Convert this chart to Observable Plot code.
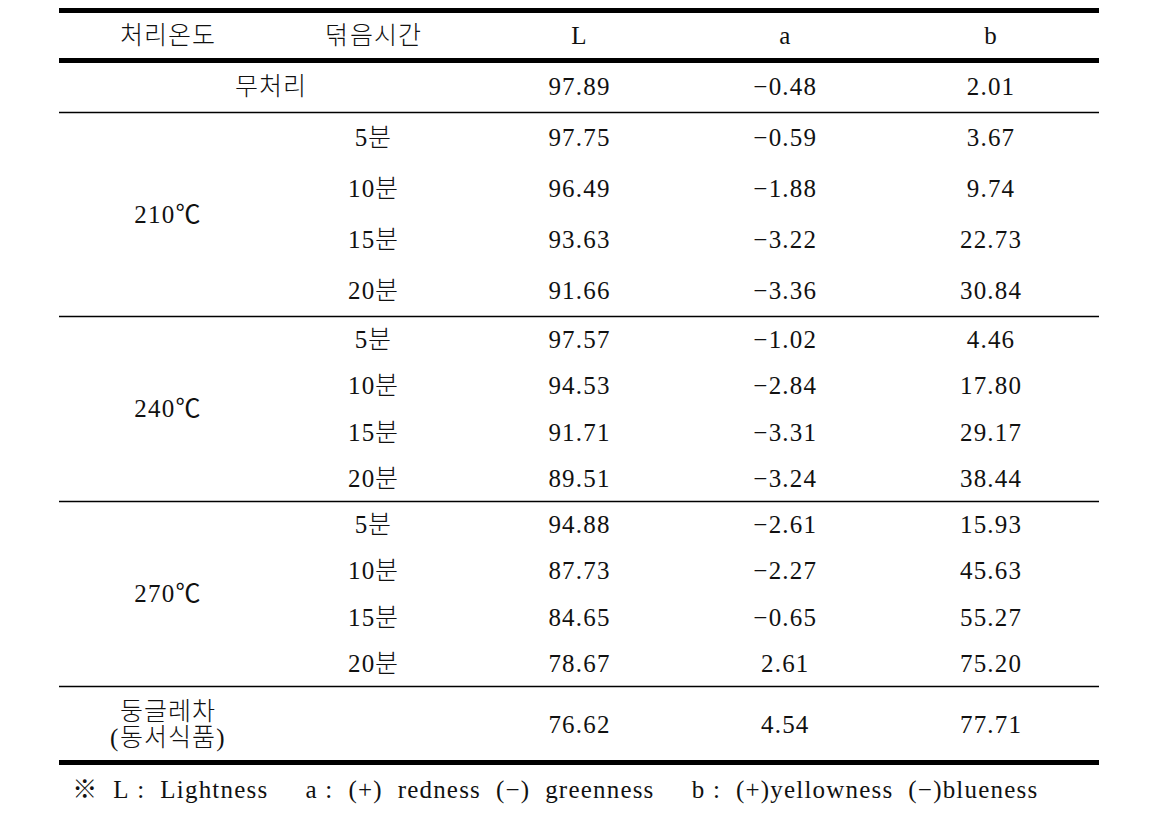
<!DOCTYPE html>
<html>
<head>
<meta charset="utf-8">
<script src="https://cdn.jsdelivr.net/npm/d3@7"></script>
<script src="https://cdn.jsdelivr.net/npm/@observablehq/plot@0.6"></script>
<style>
  @font-face {
    font-family: "HangulLight";
    src: local("Noto Sans CJK KR Light"), local("NotoSansCJKkr-Light"), local("Noto Sans CJK KR DemiLight"), local("NotoSansCJKkr-DemiLight");
    unicode-range: U+1100-11FF, U+3130-318F, U+AC00-D7AF;
  }
  html, body { margin: 0; padding: 0; background: #fff; }
  #chart svg { display: block; letter-spacing: 1.2px; }
</style>
</head>
<body>
<div id="chart"></div>
<script>
// ---- data ----
const columns = ["처리온도", "덖음시간", "L", "a", "b"];
const temps = ["210℃", "240℃", "270℃"];
const times = ["5분", "10분", "15분", "20분"];
const controlLabel = "무처리";
const controlValues = [97.89, -0.48, 2.01];
const Lvals = [97.75, 96.49, 93.63, 91.66, 97.57, 94.53, 91.71, 89.51, 94.88, 87.73, 84.65, 78.67];
const aVals = [-0.59, -1.88, -3.22, -3.36, -1.02, -2.84, -3.31, -3.24, -2.61, -2.27, -0.65, 2.61];
const bVals = [3.67, 9.74, 22.73, 30.84, 4.46, 17.80, 29.17, 38.44, 15.93, 45.63, 55.27, 75.20];
const commercialLabel = "둥글레차\n(동서식품)";
const commercialValues = [76.62, 4.54, 77.71];
const sp = n => "\u00a0".repeat(n);
const footnote = "※" + sp(2) + "L" + sp(1) + ":" + sp(2) + "Lightness" + sp(5) +
  "a" + sp(1) + ":" + sp(2) + "(+)" + sp(2) + "redness" + sp(2) + "(−)" + sp(2) + "greenness" + sp(5) +
  "b" + sp(1) + ":" + sp(2) + "(+)yellowness" + sp(2) + "(−)blueness";

// ---- build table cells (row index = table structure) ----
const fmt = d3.format(".2f");
const cells = [];
columns.forEach((c, i) => cells.push({col: i, row: 0.5, text: c}));
cells.push({col: 0.5, row: 1.5, text: controlLabel});
controlValues.forEach((v, i) => cells.push({col: i + 2, row: 1.5, text: fmt(v)}));
temps.forEach((t, g) => {
  cells.push({col: 0, row: 2 + g * times.length + times.length / 2, text: t});
  times.forEach((tm, k) => {
    const idx = g * times.length + k;
    const r = 2 + idx + 0.5;
    cells.push({col: 1, row: r, text: tm});
    cells.push({col: 2, row: r, text: fmt(Lvals[idx])});
    cells.push({col: 3, row: r, text: fmt(aVals[idx])});
    cells.push({col: 4, row: r, text: fmt(bVals[idx])});
  });
});
const nTreat = temps.length * times.length;
const commercialRow = 2 + nTreat + 0.75;
cells.push({col: 0, row: commercialRow, text: commercialLabel});
commercialValues.forEach((v, i) => cells.push({col: i + 2, row: commercialRow, text: fmt(v)}));

const tableEnd = 2 + nTreat + 1.5;
const groupEnds = temps.map((t, g) => 2 + (g + 1) * times.length);
const thickRules = [0, 1, tableEnd];
const thinRules = [2, ...groupEnds];

const font = "HangulLight, 'Liberation Serif', 'Noto Sans CJK KR', serif";

const chart = Plot.plot({
  width: 1154,
  height: 823,
  marginLeft: 59,
  marginRight: 55,
  marginTop: 10,
  marginBottom: 61,
  style: {fontFamily: font, background: "#fff", color: "#111"},
  x: {type: "linear", domain: [-0.527, columns.length - 1 + 0.527], axis: null},
  // piecewise row layout: header, control, three groups, commercial row
  y: {type: "linear", domain: [0, 1, 2, ...groupEnds, tableEnd], range: [10, 60, 112, 316, 501, 686, 762], axis: null},
  marks: [
    Plot.ruleY(thickRules, {stroke: "#000", strokeWidth: 5}),
    Plot.ruleY(thinRules, {stroke: "#000", strokeWidth: 1.3}),
    Plot.text(cells, {x: "col", y: "row", text: "text", fontSize: 25, fill: "#111", lineHeight: 1.05, fontFamily: font}),
    Plot.text([footnote], {x: -0.465, y: tableEnd + 0.55, text: d => d, textAnchor: "start", fontSize: 25, fill: "#111", fontFamily: font})
  ]
});
document.getElementById("chart").appendChild(chart);
</script>
</body>
</html>
